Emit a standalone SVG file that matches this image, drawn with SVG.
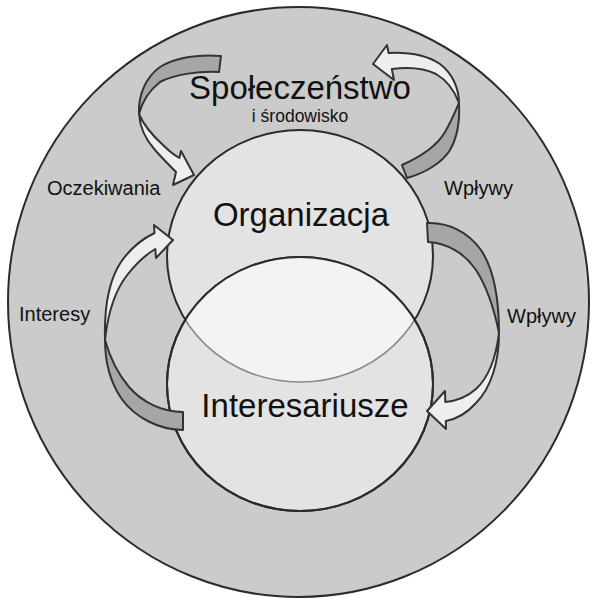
<svg xmlns="http://www.w3.org/2000/svg" width="598" height="612" viewBox="0 0 598 612">
  <style>
    .ring { fill: #cbcbcb; stroke: #2b2b2b; stroke-width: 2; }
    .node { fill: #e3e3e3; stroke: #2b2b2b; stroke-width: 2; }
    .lens { fill: #f3f3f3; stroke: none; }
    .lensedge { fill: none; stroke: #8a8a8a; stroke-width: 1.6; }
    .edge { fill: none; stroke: #2b2b2b; stroke-width: 2; }
    .back { fill: #a6a6a6; stroke: #333; stroke-width: 2; stroke-linejoin: round; }
    .front { fill: #eeeeee; stroke: #333; stroke-width: 2; stroke-linejoin: round; }
    text { font-family: "Liberation Sans", Arial, sans-serif; fill: #111; }
    .big { font-size: 33px; text-anchor: middle; }
    .sub { font-size: 17.5px; text-anchor: middle; }
    .lbl { font-size: 20px; }
  </style>
  <defs>
    <clipPath id="clipLower">
      <ellipse cx="300" cy="384" rx="133" ry="127"/>
    </clipPath>
  </defs>
  <rect width="598" height="612" fill="#ffffff"/>

  <g id="spoleczenstwo">
    <ellipse class="ring" cx="298.5" cy="302" rx="290.5" ry="295"/>
    <text class="big" x="300" y="99">Społeczeństwo</text>
    <text class="sub" x="300" y="122">i środowisko</text>
  </g>

  <g id="organizacja">
    <ellipse class="node" cx="300" cy="256" rx="133" ry="126"/>
  </g>

  <g id="interesariusze">
    <ellipse class="node" cx="300" cy="384" rx="133" ry="127"/>
    <ellipse class="lens" cx="300" cy="256" rx="133" ry="126" clip-path="url(#clipLower)"/>
    <ellipse class="lensedge" cx="300" cy="256" rx="133" ry="126" clip-path="url(#clipLower)"/>
    <ellipse class="edge" cx="300" cy="384" rx="133" ry="127"/>
  </g>

  <g id="node-labels">
    <text class="big" x="301" y="226">Organizacja</text>
    <text class="big" x="305" y="417">Interesariusze</text>
  </g>

  <g id="connectors">
    <g id="arrow-oczekiwania">
      <path class="back" d="M221,56 C200,54 176,57 160,67 C146,77 138,95 139,114 C142,102 150,90 160,82 C175,74 200,71 219,72 Z"/>
      <path class="front" d="M139,114 C140,128 146,140 155,150 C163,159 170,166 176,172 L173,185 L194,175 L181,151 L179.4,158 C174,155 169,151 163,145 C152,135 144,126 139,114 Z"/>
    </g>
    <g id="arrow-wplywy-top">
      <path class="back" d="M407,178 C425,173 442,163 450,150 C457,138 460,122 459,103 C455,112 451,122 445,132 C437,146 420,157 402,165 Z"/>
      <path class="front" d="M459,103 C459,88 452,73 440,64 C428,56 410,52 388.6,53 L387,45 L373,64 L394,80 L391.8,69 C407,67 424,68 436,74 C448,81 455,92 459,103 Z"/>
    </g>
    <g id="arrow-interesy">
      <path class="back" d="M183,430 C160,430 135,418 121,398 C111,383 105,362 105,340 C110,358 118,374 129,387 C142,402 162,412 183,412 Z"/>
      <path class="front" d="M105,340 C104,305 109,280 121,262 C130,249 142,239 154.5,233 L154,225 L173,240 L156,258 L155.3,249 C145,255 136,264 128,274 C115,290 108,312 105,340 Z"/>
    </g>
    <g id="arrow-wplywy-right">
      <path class="back" d="M427,223 C448,222 468,232 481,250 C493,268 499,298 499,333 C494,308 487,287 476,270 C465,254 448,243 428,242 Z"/>
      <path class="front" d="M499,333 C499,362 491,388 476,403 C467,413 457,419 445.8,421 L446,429 L427,411 L445,391 L445.3,402 C456,401 467,397 476,389 C489,377 496,357 499,333 Z"/>
    </g>
  </g>

  <g id="connector-labels">
    <text class="lbl" x="47" y="195">Oczekiwania</text>
    <text class="lbl" x="444" y="195">Wpływy</text>
    <text class="lbl" x="19" y="321">Interesy</text>
    <text class="lbl" x="507" y="323">Wpływy</text>
  </g>
</svg>
